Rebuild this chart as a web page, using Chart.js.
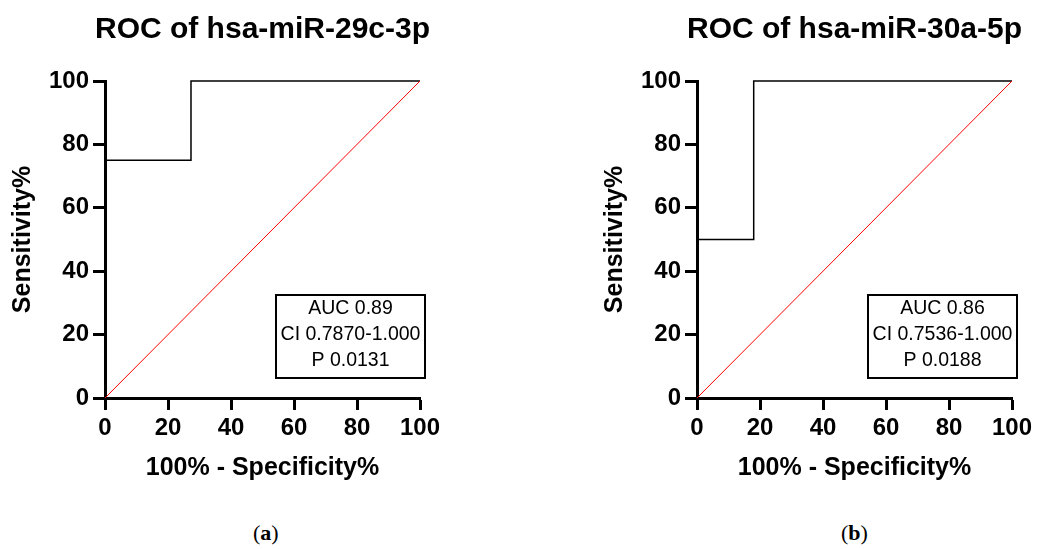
<!DOCTYPE html>
<html>
<head>
<meta charset="utf-8">
<script src="https://cdn.jsdelivr.net/npm/chart.js@4.4.0/dist/chart.umd.min.js"></script>
<style>
body { margin: 0; background: #fff; width: 1037px; height: 549px; overflow: hidden; position: relative; }
.box { position: absolute; top: 0; width: 525px; height: 500px; }
.lbl { position: absolute; top: 520px; font-family: "Liberation Serif", serif; font-size: 22px; color: #000; }
</style>
</head>
<body>
<div class="box" style="left:0"><canvas id="c1" width="525" height="500"></canvas></div>
<div class="box" style="left:592px"><canvas id="c2" width="525" height="500"></canvas></div>
<div class="lbl" style="left:253px">(<b>a</b>)</div>
<div class="lbl" style="left:841px">(<b>b</b>)</div>
<script>
// данные ROC-кривых
var rocX1 = [0, 0, 27.3, 27.3, 100];
var rocY1 = [0, 75, 75, 100, 100];
var rocX2 = [0, 0, 18, 18, 100];
var rocY2 = [0, 50, 50, 100, 100];
var diagX = [0, 100];
var diagY = [0, 100];
var titles = ["ROC of hsa-miR-29c-3p", "ROC of hsa-miR-30a-5p"];
var stats1 = ["AUC 0.89", "CI 0.7870-1.000", "P 0.0131"];
var stats2 = ["AUC 0.86", "CI 0.7536-1.000", "P 0.0188"];
var xTicks = [0, 20, 40, 60, 80, 100];

var font = '"Liberation Sans", Arial, sans-serif';

function pts(xs, ys) {
  return xs.map(function (x, i) { return { x: x, y: ys[i] }; });
}

// заголовок по центру области графика + рамка с AUC
var extras = {
  id: 'extras',
  afterDraw: function (chart) {
    var o = chart.options.plugins.extras;
    var a = chart.chartArea;
    var ctx = chart.ctx;
    ctx.save();
    ctx.fillStyle = '#000';
    ctx.font = 'bold 30px ' + font;
    ctx.textAlign = 'center';
    ctx.textBaseline = 'alphabetic';
    ctx.fillText(o.title, (a.left + a.right) / 2, 38);

    var l = a.left + 171, t = a.top + 214, w = 149, h = 83;
    ctx.fillStyle = '#fff';
    ctx.fillRect(l, t, w, h);
    ctx.strokeStyle = '#000';
    ctx.lineWidth = 2;
    ctx.strokeRect(l, t, w, h);
    ctx.fillStyle = '#000';
    ctx.font = '19.5px ' + font;
    ctx.textBaseline = 'middle';
    for (var i = 0; i < o.lines.length; i++) {
      ctx.fillText(o.lines[i], l + w / 2, t + 14 + i * 26);
    }
    ctx.restore();
  }
};

function makeChart(id, title, xs, ys, lines) {
  return new Chart(document.getElementById(id), {
    type: 'scatter',
    data: {
      datasets: [{
        data: pts(diagX, diagY),
        showLine: true,
        borderColor: '#ff0000',
        borderWidth: 1,
        pointRadius: 0,
        clip: false
      }, {
        data: pts(xs, ys),
        showLine: true,
        borderColor: '#000',
        borderWidth: 1.5,
        pointRadius: 0,
        clip: false
      }]
    },
    options: {
      responsive: false,
      animation: false,
      layout: { padding: { left: 0, right: 105, top: 81, bottom: 12 } },
      plugins: {
        legend: { display: false },
        tooltip: { enabled: false },
        title: { display: false },
        extras: { title: title, lines: lines }
      },
      scales: {
        x: {
          type: 'linear',
          min: 0, max: 100,
          afterFit: function (s) { s.height = 90; },
          afterBuildTicks: function (s) { s.ticks = xTicks.map(function (v) { return { value: v }; }); },
          border: { display: true, color: '#000', width: 3 },
          grid: { drawOnChartArea: false, drawTicks: true, tickLength: 12, tickWidth: 3, tickColor: '#000', color: '#000' },
          ticks: { color: '#000', padding: 4, font: { family: font, size: 24, weight: 'bold' } },
          title: { display: true, text: '100% - Specificity%', color: '#000', padding: { top: 0, bottom: 5 }, font: { family: font, size: 25, weight: 'bold' } }
        },
        y: {
          type: 'linear',
          min: 0, max: 100,
          afterFit: function (s) { s.width = 105; },
          afterBuildTicks: function (s) { s.ticks = xTicks.map(function (v) { return { value: v }; }); },
          border: { display: true, color: '#000', width: 3 },
          grid: { drawOnChartArea: false, drawTicks: true, tickLength: 12, tickWidth: 3, tickColor: '#000', color: '#000' },
          ticks: { color: '#000', padding: 4, font: { family: font, size: 24, weight: 'bold' } },
          title: { display: true, text: 'Sensitivity%', color: '#000', padding: { top: 8, bottom: 0 }, font: { family: font, size: 25, weight: 'bold' } }
        }
      }
    },
    plugins: [extras]
  });
}

makeChart('c1', titles[0], rocX1, rocY1, stats1);
makeChart('c2', titles[1], rocX2, rocY2, stats2);
</script>
</body>
</html>
